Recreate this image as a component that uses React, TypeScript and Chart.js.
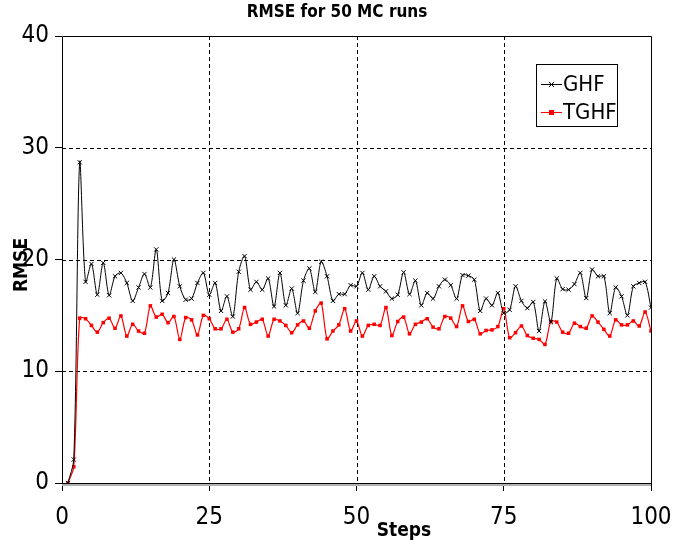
import React, { useEffect, useRef } from "react";
import { Chart, registerables } from "chart.js";

Chart.register(...registerables);

const steps: number[] = Array.from({ length: 100 }, (_, i) => i + 1);

const ghf: number[] = [
  0, 2.1, 28.7, 18.0, 19.6, 16.85, 19.7, 16.8, 18.5, 18.8,
  17.9, 16.3, 17.5, 18.7, 17.5, 20.9, 16.3, 17.0, 20.0, 17.6,
  16.4, 16.5, 17.9, 18.8, 16.85, 17.9, 15.4, 16.7, 14.9, 18.9,
  20.3, 17.3, 18.0, 17.3, 18.3, 15.8, 18.8, 15.9, 17.4, 15.2,
  18.1, 19.2, 17.1, 19.8, 18.5, 16.3, 16.9, 16.9, 17.7, 17.6,
  18.8, 17.3, 18.5, 17.6, 17.15, 16.5, 16.85, 18.85, 16.9, 18.1,
  15.9, 17.0, 16.5, 17.6, 18.2, 17.7, 16.5, 18.6, 18.55, 18.2,
  15.4, 16.5, 15.9, 17.0, 15.2, 15.5, 17.6, 16.3, 15.65, 16.2,
  13.6, 16.25, 14.4, 18.3, 17.35, 17.3, 17.8, 18.8, 16.55, 19.1,
  18.5, 18.5, 15.2, 17.5, 16.7, 15.0, 17.6, 17.9, 18.0, 15.7,
];

const tghf: number[] = [
  0, 1.45, 14.75, 14.7, 14.1, 13.5, 14.35, 14.75, 13.85, 14.95,
  13.15, 14.2, 13.6, 13.4, 15.85, 14.85, 15.1, 14.35, 14.9, 12.85,
  14.8, 14.6, 13.25, 15.0, 14.7, 13.8, 13.8, 14.65, 13.5, 13.8,
  15.7, 14.2, 14.4, 14.65, 13.15, 14.65, 14.5, 14.1, 13.45, 14.15,
  14.5, 13.85, 15.4, 16.1, 12.9, 13.6, 14.15, 15.6, 13.6, 14.5,
  13.15, 14.1, 14.2, 14.1, 15.7, 13.2, 14.45, 14.85, 13.35, 14.2,
  14.4, 14.7, 13.95, 13.8, 14.9, 14.75, 14.0, 15.85, 14.45, 14.65,
  13.35, 13.65, 13.7, 14.0, 15.6, 13.0, 13.45, 14.05, 13.2, 12.95,
  12.85, 12.4, 14.45, 14.4, 13.5, 13.4, 14.3, 14.0, 13.85, 14.95,
  14.4, 13.75, 13.15, 14.6, 14.15, 14.15, 14.5, 14.05, 15.3, 13.6,
];

const xGridValues: number[] = [25, 50, 75];
const yGridValues: number[] = [10, 20, 30];
const seriesNames: string[] = ["GHF", "TGHF"];
const titleText = "RMSE for 50 MC runs";
const xTitle = "Steps";
const yTitle = "RMSE";

const FONT = "'Liberation Sans Narrow', 'Arial Narrow', 'DejaVu Sans Condensed', sans-serif";

function drawCross(ctx: CanvasRenderingContext2D, x: number, y: number, r: number) {
  ctx.beginPath();
  ctx.moveTo(x - r, y - r);
  ctx.lineTo(x + r, y + r);
  ctx.moveTo(x - r, y + r);
  ctx.lineTo(x + r, y - r);
  ctx.stroke();
}

const decor = {
  id: "decor",
  beforeDatasetsDraw(chart: any) {
    const { ctx, chartArea: a, scales } = chart;
    const xs = scales.x;
    const ys = scales.y;
    ctx.save();
    ctx.strokeStyle = "#000";
    ctx.lineWidth = 1;
    ctx.setLineDash([4, 3]);
    for (const v of xGridValues) {
      const px = Math.round(xs.getPixelForValue(v)) + 0.5;
      ctx.beginPath();
      ctx.moveTo(px, a.top);
      ctx.lineTo(px, a.bottom);
      ctx.stroke();
    }
    for (const v of yGridValues) {
      const py = Math.round(ys.getPixelForValue(v)) + 0.5;
      ctx.beginPath();
      ctx.moveTo(a.left, py);
      ctx.lineTo(a.right, py);
      ctx.stroke();
    }
    ctx.setLineDash([]);
    ctx.strokeStyle = "#b0b0b0";
    ctx.lineWidth = 2;
    ctx.beginPath();
    ctx.moveTo(a.left, Math.round(a.bottom) + 2);
    ctx.lineTo(a.right, Math.round(a.bottom) + 2);
    ctx.stroke();
    ctx.strokeStyle = "#000";
    ctx.lineWidth = 1;
    ctx.beginPath();
    ctx.rect(Math.round(a.left) + 0.5, Math.round(a.top) + 0.5, Math.round(a.width), Math.round(a.height));
    ctx.stroke();
    ctx.restore();
  },
  afterDraw(chart: any) {
    const { ctx } = chart;
    ctx.save();
    ctx.fillStyle = "#000";
    ctx.textAlign = "center";
    ctx.textBaseline = "middle";
    ctx.font = `bold 17px ${FONT}`;
    ctx.fillText(titleText, 337, 13);
    ctx.font = `bold 19px ${FONT}`;
    ctx.fillText(xTitle, 404, 531);
    ctx.save();
    ctx.translate(22, 265);
    ctx.rotate(-Math.PI / 2);
    ctx.fillText(yTitle, 0, 0);
    ctx.restore();

    // legend
    ctx.fillStyle = "#fff";
    ctx.fillRect(536, 64, 81, 63);
    ctx.strokeStyle = "#000";
    ctx.lineWidth = 1;
    ctx.strokeRect(536.5, 64.5, 81, 62);
    ctx.textAlign = "left";
    ctx.font = `22px ${FONT}`;
    ctx.fillStyle = "#000";
    ctx.beginPath();
    ctx.moveTo(541, 84.5);
    ctx.lineTo(562, 84.5);
    ctx.stroke();
    drawCross(ctx, 551.5, 84.5, 2.5);
    ctx.fillText(seriesNames[0], 563, 85);
    ctx.strokeStyle = "#ff0000";
    ctx.beginPath();
    ctx.moveTo(541, 112.5);
    ctx.lineTo(562, 112.5);
    ctx.stroke();
    ctx.fillStyle = "#ff0000";
    ctx.fillRect(549, 110, 5, 5);
    ctx.fillStyle = "#000";
    ctx.fillText(seriesNames[1], 563, 113);
    ctx.restore();
  },
};

export default function App() {
  const ref = useRef<HTMLCanvasElement | null>(null);
  useEffect(() => {
    document.body.style.margin = "0";
    const canvas = ref.current;
    if (!canvas) return;
    const chart = new Chart(canvas, {
      type: "line",
      data: {
        datasets: [
          {
            label: seriesNames[0],
            data: steps.map((s, i) => ({ x: s, y: ghf[i] })),
            borderColor: "#000000",
            backgroundColor: "#000000",
            borderWidth: 1,
            pointStyle: "crossRot",
            pointRadius: 3,
            pointBorderWidth: 1,
            pointBorderColor: "#000000",
            tension: 0.3,
          },
          {
            label: seriesNames[1],
            data: steps.map((s, i) => ({ x: s, y: tghf[i] })),
            borderColor: "#ff0000",
            backgroundColor: "#ff0000",
            borderWidth: 1.2,
            pointStyle: "rect",
            pointRadius: 2.5,
            pointBorderWidth: 0,
            pointBackgroundColor: "#ff0000",
            tension: 0.3,
          },
        ],
      },
      options: {
        responsive: false,
        animation: false,
        layout: { padding: { top: 36, right: 43, left: 0, bottom: 0 } },
        plugins: { legend: { display: false }, title: { display: false }, tooltip: { enabled: false } },
        scales: {
          x: {
            type: "linear",
            min: 0,
            max: 100,
            ticks: { stepSize: 25, color: "#000", font: { family: FONT, size: 24 }, padding: 12, maxRotation: 0 },
            grid: { drawOnChartArea: false, drawTicks: true, tickLength: 8, color: "#000" },
            border: { display: false },
            afterFit: (s: any) => { s.height = 58; },
          },
          y: {
            min: 0,
            max: 40,
            ticks: { stepSize: 10, color: "#000", font: { family: FONT, size: 24 }, padding: 6 },
            grid: { drawOnChartArea: false, drawTicks: true, tickLength: 7, color: "#000" },
            border: { display: false },
            afterFit: (s: any) => { s.width = 62; },
          },
        },
      },
      plugins: [decor],
    } as any);
    return () => chart.destroy();
  }, []);
  return (
    <div style={{ position: "absolute", left: 0, top: 0, width: 694, height: 541 }}>
      <canvas ref={ref} width={694} height={541} style={{ width: 694, height: 541 }} />
    </div>
  );
}
